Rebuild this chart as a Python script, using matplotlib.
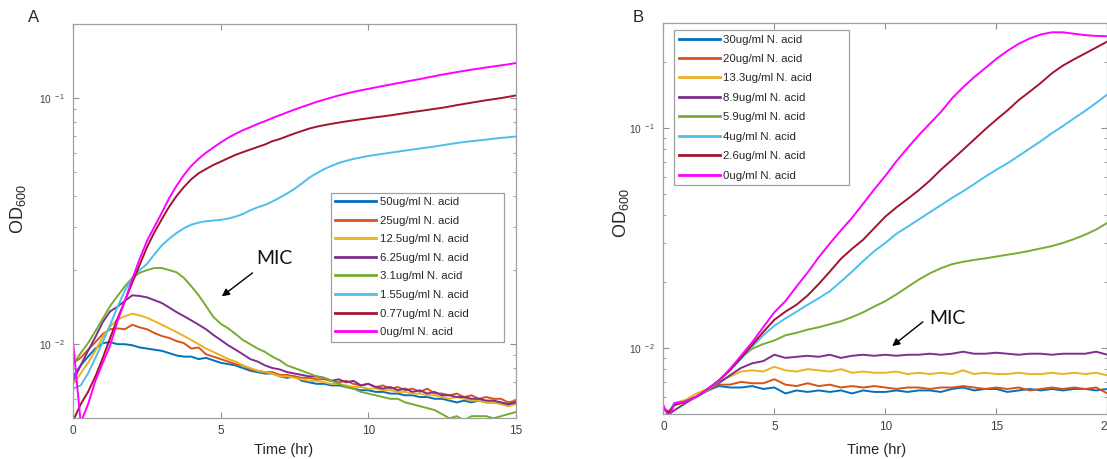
import numpy as np
import matplotlib
matplotlib.use('Agg')
import matplotlib.pyplot as plt
from matplotlib.ticker import LogLocator, NullFormatter, FuncFormatter

plt.rcParams['font.family'] = ['Liberation Sans', 'DejaVu Sans']
plt.rcParams['mathtext.default'] = 'regular'

# ---------------- Panel A data ----------------
time_a = np.linspace(0, 15, 61)
labels_a = ['50ug/ml N. acid', '25ug/ml N. acid', '12.5ug/ml N. acid', '6.25ug/ml N. acid',
            '3.1ug/ml N. acid', '1.55ug/ml N. acid', '0.77ug/ml N. acid', '0ug/ml N. acid']

a_50 = [0.0074, 0.0082, 0.0089, 0.0096,
        0.0101, 0.0102, 0.0100, 0.0100,
        0.0099, 0.0097, 0.0096, 0.0095,
        0.0094, 0.0092, 0.0090, 0.0089,
        0.0089, 0.0087, 0.0088, 0.0086,
        0.0084, 0.0083, 0.0082, 0.0080,
        0.0078, 0.0077, 0.0076, 0.0076,
        0.0074, 0.0073, 0.0074, 0.0071,
        0.0070, 0.0069, 0.0069, 0.0068,
        0.0068, 0.0067, 0.0066, 0.0065,
        0.0065, 0.0064, 0.0064, 0.0063,
        0.0063, 0.0062, 0.0062, 0.0061,
        0.0061, 0.0060, 0.0060, 0.0059,
        0.0058, 0.0059, 0.0058, 0.0059,
        0.0058, 0.0058, 0.0058, 0.0057,
        0.0058]
a_25 = [0.0084, 0.0088, 0.0095, 0.0102,
        0.0110, 0.0115, 0.0116, 0.0115,
        0.0120, 0.0117, 0.0115, 0.0111,
        0.0108, 0.0106, 0.0103, 0.0101,
        0.0096, 0.0097, 0.0091, 0.0089,
        0.0087, 0.0085, 0.0083, 0.0082,
        0.0079, 0.0078, 0.0077, 0.0077,
        0.0075, 0.0075, 0.0074, 0.0073,
        0.0073, 0.0072, 0.0072, 0.0071,
        0.0070, 0.0071, 0.0069, 0.0068,
        0.0069, 0.0067, 0.0068, 0.0066,
        0.0067, 0.0065, 0.0066, 0.0064,
        0.0066, 0.0063, 0.0063, 0.0062,
        0.0063, 0.0061, 0.0062, 0.0060,
        0.0061, 0.0060, 0.0060, 0.0058,
        0.0059]
a_12 = [0.0069, 0.0076, 0.0084, 0.0094,
        0.0107, 0.0118, 0.0126, 0.0130,
        0.0133, 0.0131, 0.0128, 0.0124,
        0.0120, 0.0116, 0.0112, 0.0108,
        0.0104, 0.0100, 0.0096, 0.0093,
        0.0090, 0.0087, 0.0085, 0.0082,
        0.0080, 0.0078, 0.0077, 0.0076,
        0.0074, 0.0074, 0.0073, 0.0072,
        0.0071, 0.0071, 0.0070, 0.0069,
        0.0069, 0.0068, 0.0067, 0.0067,
        0.0066, 0.0066, 0.0065, 0.0065,
        0.0064, 0.0064, 0.0063, 0.0063,
        0.0062, 0.0062, 0.0061, 0.0060,
        0.0061, 0.0060, 0.0059, 0.0059,
        0.0058, 0.0058, 0.0057, 0.0056,
        0.0057]
a_6 = [0.0071, 0.0082, 0.0094, 0.0107,
       0.0123, 0.0136, 0.0142, 0.0150,
       0.0158, 0.0157, 0.0155, 0.0151,
       0.0147, 0.0141, 0.0135, 0.0130,
       0.0125, 0.0120, 0.0115, 0.0109,
       0.0104, 0.0099, 0.0095, 0.0091,
       0.0087, 0.0085, 0.0082, 0.0080,
       0.0079, 0.0077, 0.0076, 0.0075,
       0.0074, 0.0074, 0.0073, 0.0071,
       0.0072, 0.0070, 0.0071, 0.0068,
       0.0069, 0.0067, 0.0066, 0.0067,
       0.0065, 0.0066, 0.0064, 0.0065,
       0.0063, 0.0064, 0.0062, 0.0062,
       0.0061, 0.0061, 0.0060, 0.0060,
       0.0059, 0.0059, 0.0058, 0.0057,
       0.0058]
a_3 = [0.0083, 0.0092, 0.0101, 0.0113,
       0.0127, 0.0143, 0.0157, 0.0172,
       0.0186, 0.0195, 0.0200, 0.0204,
       0.0204, 0.0200, 0.0196, 0.0186,
       0.0172, 0.0158, 0.0143, 0.0129,
       0.0121, 0.0116, 0.0110, 0.0104,
       0.0100, 0.0096, 0.0093, 0.0089,
       0.0086, 0.0082, 0.0080, 0.0078,
       0.0076, 0.0074, 0.0073, 0.0071,
       0.0069, 0.0067, 0.0066, 0.0064,
       0.0063, 0.0062, 0.0061, 0.0060,
       0.0060, 0.0058, 0.0057, 0.0056,
       0.0055, 0.0054, 0.0052, 0.0050,
       0.0051, 0.0049, 0.0051, 0.0051,
       0.0051, 0.0050, 0.0051, 0.0052,
       0.0053]
a_155 = [0.0066, 0.0068, 0.0076, 0.0088,
         0.0102, 0.0120, 0.0142, 0.0165,
         0.0186, 0.0200, 0.0212, 0.0232,
         0.0252, 0.0268, 0.0283, 0.0296,
         0.0306, 0.0312, 0.0316, 0.0318,
         0.0320, 0.0324, 0.0330, 0.0338,
         0.0350, 0.0360, 0.0368, 0.0380,
         0.0394, 0.0410, 0.0428, 0.0450,
         0.0475, 0.0495, 0.0514, 0.0530,
         0.0545, 0.0556, 0.0566, 0.0574,
         0.0582, 0.0588, 0.0594, 0.0600,
         0.0606, 0.0612, 0.0618, 0.0624,
         0.0630, 0.0636, 0.0643, 0.0650,
         0.0657, 0.0663, 0.0668, 0.0673,
         0.0678, 0.0684, 0.0689, 0.0693,
         0.0698]
a_077 = [0.0049, 0.0057, 0.0064, 0.0074,
         0.0088, 0.0106, 0.0127, 0.0150,
         0.0178, 0.0210, 0.0248, 0.0285,
         0.0322, 0.0362, 0.0400, 0.0435,
         0.0468, 0.0495, 0.0515, 0.0535,
         0.0552, 0.0570, 0.0588, 0.0603,
         0.0618, 0.0633, 0.0648, 0.0668,
         0.0682, 0.0700, 0.0718, 0.0735,
         0.0752, 0.0765, 0.0776, 0.0786,
         0.0795, 0.0804, 0.0812, 0.0820,
         0.0828, 0.0836, 0.0843, 0.0851,
         0.0860, 0.0869, 0.0878, 0.0886,
         0.0895, 0.0904, 0.0913, 0.0924,
         0.0936, 0.0947, 0.0958, 0.0969,
         0.0980, 0.0990, 0.1000, 0.1012,
         0.1025]
a_0 = [0.0100, 0.0048, 0.0057, 0.0071,
       0.0084, 0.0099, 0.0124, 0.0150,
       0.0184, 0.0222, 0.0263, 0.0300,
       0.0342, 0.0392, 0.0440, 0.0487,
       0.0530, 0.0567, 0.0600, 0.0630,
       0.0660, 0.0690, 0.0716, 0.0740,
       0.0762, 0.0785, 0.0806, 0.0830,
       0.0852, 0.0875, 0.0898, 0.0920,
       0.0942, 0.0965, 0.0985, 0.1005,
       0.1025, 0.1043, 0.1060, 0.1075,
       0.1090, 0.1105, 0.1120, 0.1135,
       0.1150, 0.1165, 0.1180, 0.1195,
       0.1212, 0.1228, 0.1245, 0.1260,
       0.1275, 0.1290, 0.1305, 0.1318,
       0.1332, 0.1345, 0.1358, 0.1372,
       0.1388]

# ---------------- Panel B data ----------------
time_b = [0, 0.25,
          0.5, 1.0, 1.5, 2.0, 2.5, 3.0, 3.5, 4.0, 4.5, 5.0, 5.5, 6.0, 6.5, 7.0, 7.5, 8.0,
          8.5, 9.0, 9.5, 10.0, 10.5, 11.0, 11.5, 12.0, 12.5, 13.0, 13.5, 14.0, 14.5, 15.0,
          15.5, 16.0, 16.5, 17.0, 17.5, 18.0, 18.5, 19.0, 19.5, 20.0]
labels_b = ['30ug/ml N. acid', '20ug/ml N. acid', '13.3ug/ml N. acid', '8.9ug/ml N. acid',
            '5.9ug/ml N. acid', '4ug/ml N. acid', '2.6ug/ml N. acid', '0ug/ml N. acid']

b_30 = [0.0053, 0.0051,
        0.0055, 0.0057, 0.0060, 0.0064,
        0.0067, 0.0066, 0.0066, 0.0067,
        0.0065, 0.0066, 0.0062, 0.0064,
        0.0063, 0.0064, 0.0063, 0.0064,
        0.0062, 0.0064, 0.0063, 0.0063,
        0.0064, 0.0063, 0.0064, 0.0064,
        0.0063, 0.0065, 0.0066, 0.0064,
        0.0065, 0.0065, 0.0063, 0.0064,
        0.0065, 0.0064, 0.0065, 0.0064,
        0.0065, 0.0065, 0.0064, 0.0065]
b_20 = [0.0053, 0.0051,
        0.0055, 0.0057, 0.0060, 0.0064,
        0.0068, 0.0068, 0.0070, 0.0069,
        0.0069, 0.0072, 0.0068, 0.0067,
        0.0069, 0.0067, 0.0068, 0.0066,
        0.0067, 0.0066, 0.0067, 0.0066,
        0.0065, 0.0066, 0.0066, 0.0065,
        0.0066, 0.0066, 0.0067, 0.0066,
        0.0065, 0.0066, 0.0065, 0.0066,
        0.0064, 0.0065, 0.0066, 0.0065,
        0.0066, 0.0065, 0.0066, 0.0062]
b_13 = [0.0053, 0.0051,
        0.0056, 0.0058, 0.0062, 0.0065,
        0.0070, 0.0074, 0.0078, 0.0079,
        0.0078, 0.0082, 0.0079, 0.0078,
        0.0080, 0.0079, 0.0078, 0.0080,
        0.0077, 0.0078, 0.0077, 0.0077,
        0.0078, 0.0076, 0.0077, 0.0076,
        0.0077, 0.0076, 0.0079, 0.0076,
        0.0077, 0.0076, 0.0076, 0.0077,
        0.0076, 0.0076, 0.0077, 0.0076,
        0.0077, 0.0076, 0.0077, 0.0075]
b_89 = [0.0053, 0.0050,
        0.0052, 0.0056, 0.0060, 0.0064,
        0.0069, 0.0075, 0.0081, 0.0085,
        0.0087, 0.0093, 0.0090, 0.0091,
        0.0092, 0.0091, 0.0093, 0.0090,
        0.0092, 0.0093, 0.0092, 0.0093,
        0.0092, 0.0093, 0.0093, 0.0094,
        0.0093, 0.0094, 0.0096, 0.0094,
        0.0094, 0.0095, 0.0094, 0.0093,
        0.0094, 0.0094, 0.0093, 0.0094,
        0.0094, 0.0094, 0.0096, 0.0093]
b_59 = [0.0053, 0.0051,
        0.0055, 0.0057, 0.0060, 0.0064,
        0.0070, 0.0080, 0.0090, 0.0099,
        0.0104, 0.0108, 0.0114, 0.0117,
        0.0121, 0.0124, 0.0128, 0.0132,
        0.0138, 0.0145, 0.0154, 0.0163,
        0.0175, 0.0189, 0.0204, 0.0218,
        0.0230, 0.0240, 0.0246, 0.0251,
        0.0255, 0.0260, 0.0265, 0.0270,
        0.0276, 0.0283, 0.0290, 0.0300,
        0.0312, 0.0327, 0.0345, 0.0370]
b_4 = [0.0053, 0.0051,
       0.0056, 0.0057, 0.0060, 0.0065,
       0.0071, 0.0079, 0.0089, 0.0101,
       0.0114, 0.0126, 0.0136, 0.0146,
       0.0157, 0.0168, 0.0181, 0.0200,
       0.0222, 0.0248, 0.0275, 0.0300,
       0.0330, 0.0355, 0.0383, 0.0413,
       0.0445, 0.0480, 0.0515, 0.0555,
       0.0600, 0.0645, 0.0690, 0.0745,
       0.0805, 0.0870, 0.0945, 0.1020,
       0.1105, 0.1195, 0.1300, 0.1420]
b_26 = [0.0053, 0.0051,
        0.0055, 0.0057, 0.0060, 0.0065,
        0.0071, 0.0079, 0.0090, 0.0103,
        0.0118, 0.0134, 0.0146, 0.0157,
        0.0173, 0.0195, 0.0222, 0.0254,
        0.0282, 0.0310, 0.0350, 0.0395,
        0.0435, 0.0475, 0.0520, 0.0575,
        0.0645, 0.0715, 0.0795, 0.0885,
        0.0985, 0.1090, 0.1200, 0.1335,
        0.1460, 0.1600, 0.1770, 0.1920,
        0.2050, 0.2180, 0.2320, 0.2470]
b_0 = [0.0055, 0.0048,
       0.0056, 0.0057, 0.0060, 0.0065,
       0.0071, 0.0080, 0.0092, 0.0106,
       0.0124, 0.0145, 0.0163, 0.0190,
       0.0220, 0.0258, 0.0298, 0.0342,
       0.0390, 0.0452, 0.0525, 0.0605,
       0.0705, 0.0810, 0.0925, 0.1045,
       0.1180, 0.1360, 0.1530, 0.1700,
       0.1870, 0.2060, 0.2240, 0.2410,
       0.2550, 0.2660, 0.2720, 0.2720,
       0.2680, 0.2640, 0.2620, 0.2610]

colors = ['#0072BD', '#D95319', '#EDB120', '#7E2F8E', '#77AC30', '#4DBEEE', '#A2142F', '#FF00FF']

series_a = [a_50, a_25, a_12, a_6, a_3, a_155, a_077, a_0]
series_b = [b_30, b_20, b_13, b_89, b_59, b_4, b_26, b_0]

fig = plt.figure(figsize=(11.07, 4.59), dpi=100)
axA = fig.add_axes([0.0662, 0.0887, 0.3997, 0.859])
axB = fig.add_axes([0.5992, 0.0980, 0.4011, 0.852])

GRAY = '#a0a0a0'


def dec_fmt(v, pos):
    e = int(round(np.log10(v)))
    return r'$10^{\ %d}$' % e


def style(ax, xmax, ylim):
    ax.set_yscale('log')
    ax.set_xlim(0, xmax)
    ax.set_ylim(*ylim)
    ax.set_xticks(list(range(0, xmax + 1, 5)))
    ax.yaxis.set_major_locator(LogLocator(base=10))
    ax.yaxis.set_major_formatter(FuncFormatter(dec_fmt))
    ax.yaxis.set_minor_locator(LogLocator(base=10, subs=range(2, 10)))
    ax.yaxis.set_minor_formatter(NullFormatter())
    ax.tick_params(which='both', direction='in', top=True, right=True,
                   color='#909090', labelcolor='#404040')
    ax.tick_params(which='major', length=4, width=0.8)
    ax.tick_params(which='minor', length=2.5, width=0.6)
    ax.tick_params(axis='x', labelsize=8.5, pad=5)
    ax.tick_params(axis='y', labelsize=7.3, pad=6)
    for s in ax.spines.values():
        s.set_color(GRAY)
        s.set_linewidth(0.9)
    ax.set_xlabel('Time (hr)', fontsize=10.5, color='#262626')
    ax.set_ylabel('OD$_{600}$', fontsize=13, color='#262626')


def add_legend(ax, lines, labels, bbox, spacing):
    leg = ax.legend(lines, labels, loc='upper left', bbox_to_anchor=bbox, mode='expand',
                    borderaxespad=0, fontsize=8.2, handlelength=3.6, handletextpad=0.3,
                    labelspacing=spacing, borderpad=0.4, frameon=True, fancybox=False)
    fr = leg.get_frame()
    fr.set_edgecolor(GRAY)
    fr.set_linewidth(0.9)
    fr.set_alpha(1)
    for h in leg.get_lines():
        h.set_linewidth(2.0)
    for t in leg.get_texts():
        t.set_color('#262626')


# Panel A
linesA = []
for y, c in zip(series_a, colors):
    ln, = axA.plot(time_a, y, color=c, lw=1.4)
    linesA.append(ln)
style(axA, 15, (0.005, 0.2))
axA.yaxis.set_label_coords(-0.102, 0.53)
axA.xaxis.set_label_coords(0.475, -0.062)
add_legend(axA, linesA, labels_a, (0.5817, 0.19, 0.3923, 0.382), 0.75)
axA.annotate('', xy=(4.96, 0.0154), xytext=(6.15, 0.0198),
             arrowprops=dict(arrowstyle='-|>', color='black', lw=1.0, mutation_scale=11))
axA.text(6.2, 0.0223, 'MIC', fontsize=14, family=['Lato', 'DejaVu Sans'],
         ha='left', va='center', color='#111111')

# Panel B
linesB = []
for y, c in zip(series_b, colors):
    ln, = axB.plot(time_b, y, color=c, lw=1.4)
    linesB.append(ln)
style(axB, 20, (0.005, 0.3))
axB.yaxis.set_label_coords(-0.072, 0.514)
axB.xaxis.set_label_coords(0.48, -0.074)
add_legend(axB, linesB, labels_b, (0.0248, 0.5, 0.394, 0.482), 0.83)
axB.annotate('', xy=(10.21, 0.0100), xytext=(11.79, 0.01336),
             arrowprops=dict(arrowstyle='-|>', color='black', lw=1.0, mutation_scale=11))
axB.text(11.98, 0.0136, 'MIC', fontsize=14, family=['Lato', 'DejaVu Sans'],
         ha='left', va='center', color='#111111')

fig.text(34 / 1107, 1 - 17 / 459, 'A', fontsize=12, ha='center', va='center', color='#262626')
fig.text(638 / 1107, 1 - 17 / 459, 'B', fontsize=12, ha='center', va='center', color='#262626')

fig.savefig('out.png', dpi=100)
